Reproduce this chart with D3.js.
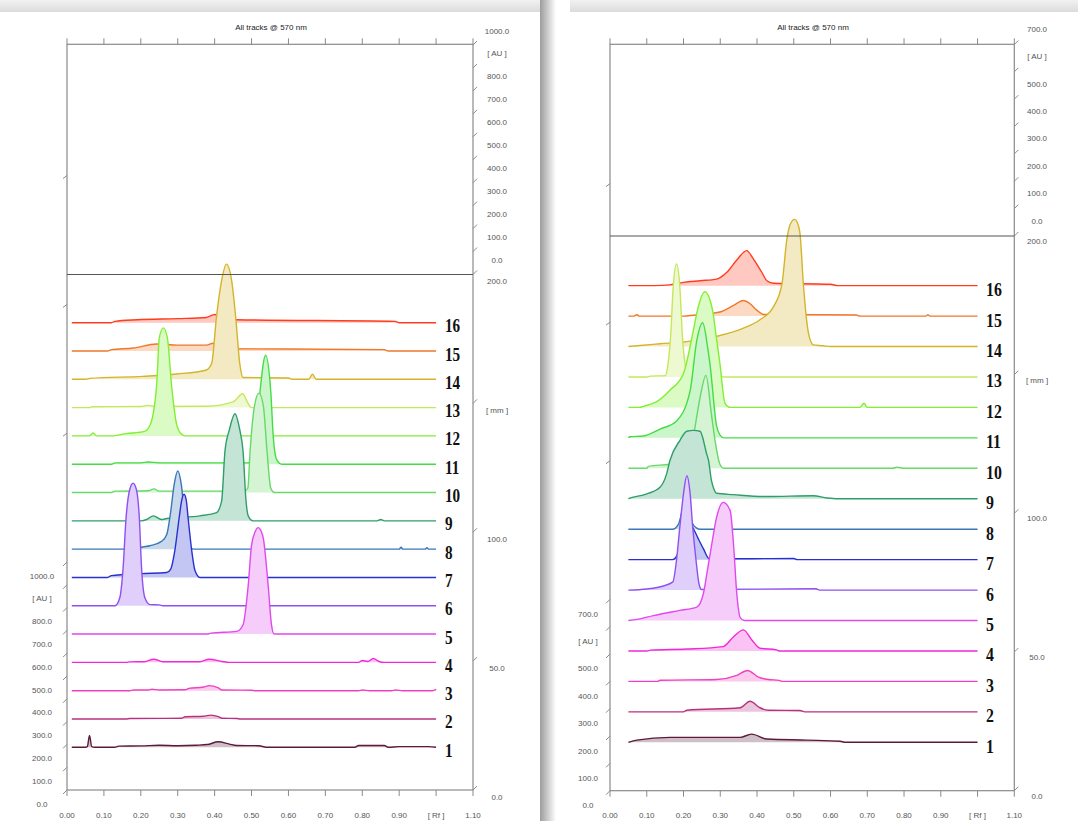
<!DOCTYPE html>
<html>
<head>
<meta charset="utf-8">
<script src="https://cdn.jsdelivr.net/npm/d3@7"></script>
<style>
  body { margin: 0; background: #fff; }
  text.axis-label { font-family: "Liberation Sans", Arial, sans-serif; }
  text.track-num { font-family: "Liberation Serif", "Times New Roman", serif; font-weight: bold; }
</style>
</head>
<body>
<svg id="chart" width="1078" height="821"></svg>
<script>
// ---- data ----
const trackIds = [1, 2, 3, 4, 5, 6, 7, 8, 9, 10, 11, 12, 13, 14, 15, 16];
const trackColors = ['#5c1a3a', '#b8307e', '#f040c0', '#f028d8', '#e048f0', '#9050f0', '#2830d0', '#3a78b8',
  '#2e9e6a', '#66d966', '#44dd44', '#80f030', '#c4e85a', '#d4b42a', '#f0782a', '#ff3c1e'];

const rfTicks = [0, 0.1, 0.2, 0.3, 0.4, 0.5, 0.6, 0.7, 0.8, 0.9, 1.0, 1.1];
const rfTickLabels = ['0.00', '0.10', '0.20', '0.30', '0.40', '0.50', '0.60', '0.70', '0.80', '0.90', '[ Rf ]', '1.10'];
const mmTicks = [0, 50, 100, 150, 200];
const mmTickLabels = ['0.0', '50.0', '100.0', '[ mm ]', '200.0'];
const chartTitle = 'All tracks @ 570 nm';

// left panel: AU axis 0..1000
const leftAuTicks = [0, 100, 200, 300, 400, 500, 600, 700, 800, 900, 1000];
const leftAuLabels = ['0.0', '100.0', '200.0', '300.0', '400.0', '500.0', '600.0', '700.0', '800.0', '[ AU ]', '1000.0'];
// right panel: AU axis 0..700
const rightAuTicks = [0, 100, 200, 300, 400, 500, 600, 700];
const rightAuLabels = ['0.0', '100.0', '200.0', '300.0', '400.0', '500.0', '[ AU ]', '700.0'];

// each trace: [Rf, AU] points, track 1 first
const leftTraces = [
  [[0.013,0],[0.05,0],[0.055,3],[0.061,52],[0.067,3],[0.075,0],[0.13,0],[0.14,5],[0.2,6],[0.25,9],[0.3,7],[0.35,9],[0.38,12],[0.41,24],[0.44,14],[0.46,8],[0.52,7],[0.54,0],[0.78,0],[0.79,8],[0.86,8],[0.87,0],[0.9,3],[0.98,3],[1.0,0]],
  [[0.013,0],[0.16,0],[0.17,2],[0.31,3],[0.32,10],[0.37,12],[0.39,17],[0.41,10],[0.42,3],[0.46,2],[0.47,0],[1.0,0]],
  [[0.013,0],[0.17,0],[0.18,3],[0.22,3],[0.23,6],[0.25,3],[0.32,4],[0.33,10],[0.37,16],[0.385,22],[0.41,12],[0.42,3],[0.5,2],[0.51,0],[0.79,0],[0.8,3],[0.82,0],[0.88,0],[0.89,3],[0.91,0],[0.99,0],[1.0,6]],
  [[0.013,0],[0.16,0],[0.17,2],[0.21,3],[0.235,14],[0.26,3],[0.36,3],[0.385,14],[0.42,4],[0.44,0],[0.79,0],[0.8,8],[0.815,4],[0.83,17],[0.845,4],[0.86,0],[1.0,0]],
  [[0.013,0],[0.38,0],[0.39,4],[0.46,12],[0.477,41],[0.491,214],[0.5,390],[0.51,450],[0.518,467],[0.525,455],[0.532,420],[0.545,214],[0.554,41],[0.561,0],[1.0,0]],
  [[0.013,0],[0.13,0],[0.143,35],[0.152,166],[0.16,385],[0.17,510],[0.179,537],[0.188,510],[0.196,385],[0.202,166],[0.211,35],[0.225,5],[0.25,4],[0.26,0],[1.0,0]],
  [[0.013,0],[0.11,0],[0.12,8],[0.2,17],[0.27,22],[0.281,37],[0.292,117],[0.304,263],[0.311,340],[0.317,365],[0.323,340],[0.328,263],[0.338,117],[0.347,29],[0.36,0],[1.0,0]],
  [[0.013,0],[0.19,0],[0.198,7],[0.225,15],[0.256,34],[0.27,63],[0.281,165],[0.29,280],[0.3,343],[0.31,280],[0.319,136],[0.328,34],[0.342,0],[0.9,0],[0.905,8],[0.91,0],[0.97,0],[0.975,6],[0.98,0],[1.0,0]],
  [[0.013,0],[0.2,0],[0.216,6],[0.234,22],[0.256,6],[0.27,10],[0.36,22],[0.405,36],[0.419,88],[0.428,306],[0.44,400],[0.455,470],[0.468,400],[0.477,306],[0.485,88],[0.491,22],[0.504,0],[0.84,0],[0.85,6],[0.86,0],[1.0,0]],
  [[0.013,0],[0.12,0],[0.13,6],[0.22,8],[0.236,16],[0.25,6],[0.46,6],[0.482,8],[0.49,20],[0.496,180],[0.508,380],[0.52,436],[0.532,380],[0.542,180],[0.552,20],[0.562,0],[1.0,0]],
  [[0.013,0],[0.12,0],[0.13,6],[0.2,6],[0.22,10],[0.25,6],[0.49,6],[0.505,20],[0.512,117],[0.523,320],[0.538,478],[0.552,320],[0.559,117],[0.568,20],[0.582,0],[1.0,0]],
  [[0.013,0],[0.06,0],[0.071,13],[0.08,0],[0.12,0],[0.16,10],[0.21,20],[0.226,51],[0.243,226],[0.25,430],[0.261,474],[0.272,430],[0.283,226],[0.297,51],[0.31,8],[0.32,0],[1.0,0]],
  [[0.013,0],[0.06,0],[0.07,4],[0.2,5],[0.22,10],[0.24,5],[0.38,6],[0.45,25],[0.476,61],[0.49,20],[0.5,0],[1.0,0]],
  [[0.013,0],[0.05,0],[0.062,4],[0.206,13],[0.297,23],[0.378,41],[0.392,70],[0.405,274],[0.419,434],[0.432,505],[0.446,434],[0.457,274],[0.468,70],[0.477,8],[0.6,6],[0.61,0],[0.655,0],[0.665,22],[0.675,0],[1.0,0]],
  [[0.013,0],[0.11,0],[0.12,6],[0.18,13],[0.243,31],[0.3,26],[0.378,26],[0.396,34],[0.405,10],[0.6,9],[0.86,6],[0.87,0],[1.0,0]],
  [[0.013,0],[0.12,0],[0.13,6],[0.19,13],[0.3,18],[0.378,23],[0.4,36],[0.43,20],[0.46,13],[0.89,6],[0.9,0],[1.0,0]]
];

const rightTraces = [
  [[0.05,0],[0.073,8],[0.163,18],[0.354,18],[0.385,30],[0.427,12],[0.535,8],[0.626,4],[0.64,0],[1.0,0]],
  [[0.05,0],[0.2,0],[0.209,6],[0.354,15],[0.381,39],[0.408,15],[0.431,6],[0.517,5],[0.53,0],[1.0,0]],
  [[0.05,0],[0.13,0],[0.136,4],[0.29,7],[0.345,22],[0.374,40],[0.404,16],[0.431,7],[0.46,4],[0.47,0],[1.0,0]],
  [[0.05,0],[0.1,0],[0.11,3],[0.209,7],[0.308,16],[0.336,52],[0.363,77],[0.386,40],[0.408,10],[0.453,4],[0.46,0],[1.0,0]],
  [[0.05,0],[0.073,4],[0.118,18],[0.19,37],[0.236,49],[0.254,98],[0.265,183],[0.277,280],[0.29,377],[0.308,432],[0.327,402],[0.336,280],[0.345,98],[0.354,12],[0.365,0],[1.0,0]],
  [[0.05,0],[0.1,4],[0.145,15],[0.171,30],[0.181,110],[0.19,231],[0.2,353],[0.209,418],[0.218,353],[0.225,231],[0.234,110],[0.242,24],[0.249,2],[0.56,5],[0.57,0],[1.0,0]],
  [[0.05,0],[0.17,0],[0.19,40],[0.2,110],[0.212,140],[0.227,113],[0.24,77],[0.254,40],[0.27,3],[0.5,4],[0.51,0],[1.0,0]],
  [[0.05,0],[0.17,0],[0.186,18],[0.195,60],[0.205,110],[0.215,60],[0.225,20],[0.235,5],[0.245,0],[1.0,0]],
  [[0.05,0],[0.054,2],[0.1,18],[0.136,42],[0.154,91],[0.163,140],[0.19,213],[0.209,247],[0.227,250],[0.245,247],[0.263,164],[0.268,140],[0.276,67],[0.281,42],[0.29,20],[0.336,15],[0.427,8],[0.553,11],[0.59,3],[0.62,0],[1.0,0]],
  [[0.05,0],[0.1,0],[0.104,7],[0.163,15],[0.2,25],[0.222,75],[0.231,148],[0.245,258],[0.261,340],[0.276,197],[0.286,100],[0.299,15],[0.31,0],[0.77,0],[0.78,4],[0.8,0],[1.0,0]],
  [[0.05,0],[0.054,4],[0.091,7],[0.136,32],[0.181,62],[0.218,172],[0.236,355],[0.252,421],[0.267,318],[0.272,270],[0.29,44],[0.299,11],[0.31,0],[1.0,0]],
  [[0.05,0],[0.08,0],[0.091,4],[0.127,21],[0.163,63],[0.2,124],[0.227,283],[0.238,356],[0.258,423],[0.279,356],[0.288,270],[0.299,161],[0.313,15],[0.327,0],[0.68,0],[0.691,15],[0.7,0],[1.0,0]],
  [[0.05,0],[0.1,0],[0.11,3],[0.15,5],[0.157,40],[0.165,150],[0.172,330],[0.181,413],[0.19,330],[0.197,150],[0.205,40],[0.213,3],[0.3,3],[0.31,0],[1.0,0]],
  [[0.05,0],[0.082,4],[0.136,10],[0.209,18],[0.29,37],[0.363,67],[0.408,98],[0.445,146],[0.468,230],[0.481,390],[0.49,445],[0.502,465],[0.512,445],[0.517,413],[0.526,230],[0.54,49],[0.553,6],[0.58,3],[0.6,0],[1.0,0]],
  [[0.05,0],[0.065,0],[0.073,5],[0.08,0],[0.2,0],[0.227,3],[0.299,15],[0.336,39],[0.363,57],[0.381,45],[0.4,21],[0.418,6],[0.67,4],[0.68,0],[0.86,0],[0.865,5],[0.87,0],[1.0,0]],
  [[0.05,0],[0.12,0],[0.163,3],[0.2,12],[0.245,18],[0.29,24],[0.318,49],[0.345,94],[0.372,128],[0.39,98],[0.413,49],[0.427,18],[0.445,9],[0.6,5],[0.62,0],[1.0,0]]
];

// ---- layout ----
const panels = [
  { x0: 67, x1: 473, top: 44.3, bottom: 790, divider: 274.5, auMax: 1000, auTop: 45,
    auTicks: leftAuTicks, auLabels: leftAuLabels, lowAuTop: 562,
    trackMm: [16.57, 181.3], traces: leftTraces,
    leftLabelX: 42, rightLabelX: 497, upLabelDy: -14, lowLabelDy: 14, mmLabelDy: 7,
    numX: 445, numDy: 9.5, numSize: 19, numScale: 0.8, titleX: 271,
    cardX: 0, cardW: 540 },
  { x0: 610, x1: 1014.3, top: 44.3, bottom: 790.7, divider: 236, auMax: 700, auTop: 44.5,
    auTicks: rightAuTicks, auLabels: rightAuLabels, lowAuTop: 599.3,
    trackMm: [17.45, 182.1], traces: rightTraces,
    leftLabelX: 588, rightLabelX: 1037, upLabelDy: -15, lowLabelDy: 15, mmLabelDy: 5.5,
    numX: 986, numDy: 10.5, numSize: 18, numScale: 0.88, titleX: 813,
    cardX: 570, cardW: 508 }
];

const svg = d3.select('#chart');
const defs = svg.append('defs');

const topShade = defs.append('linearGradient').attr('id', 'topShade')
  .attr('x1', 0).attr('y1', 0).attr('x2', 0).attr('y2', 1);
topShade.append('stop').attr('offset', '0%').attr('stop-color', '#f1f1f1');
topShade.append('stop').attr('offset', '100%').attr('stop-color', '#dcdcdc');

const sideShade = defs.append('linearGradient').attr('id', 'sideShade')
  .attr('x1', 0).attr('y1', 0).attr('x2', 1).attr('y2', 0);
sideShade.append('stop').attr('offset', '0%').attr('stop-color', '#9c9c9c');
sideShade.append('stop').attr('offset', '100%').attr('stop-color', '#ffffff');

svg.append('rect').attr('width', 1078).attr('height', 821).attr('fill', '#fff');

panels.forEach(p => {
  svg.append('rect').attr('x', p.cardX).attr('y', 0).attr('width', p.cardW).attr('height', 12)
    .attr('fill', 'url(#topShade)');
});
svg.append('rect').attr('x', 540).attr('y', 0).attr('width', 16).attr('height', 821)
  .attr('fill', 'url(#sideShade)');

const axisColor = '#8a8a8a';
const labelColor = '#555';

function drawPanel(p) {
  const g = svg.append('g');

  const x = d3.scaleLinear().domain([0, 1.1]).range([p.x0, p.x1]);
  const yMm = d3.scaleLinear().domain([0, 200]).range([p.bottom, p.divider]);
  const yUp = d3.scaleLinear().domain([0, p.auMax]).range([p.divider, p.auTop]);
  const yLow = d3.scaleLinear().domain([0, p.auMax]).range([p.bottom, p.lowAuTop]);
  const auPx = d3.scaleLinear().domain([0, p.auMax]).range([0, p.bottom - p.lowAuTop]);
  const trackMm = d3.scaleLinear().domain([1, 16]).range(p.trackMm);
  const baseY = id => yMm(trackMm(id));

  // traces, top track first so lower tracks overlap
  const area = d3.area().curve(d3.curveMonotoneX).x(d => x(d[0]));
  const line = d3.line().curve(d3.curveMonotoneX).x(d => x(d[0]));

  const order = trackIds.slice().reverse();
  order.forEach(id => {
    const pts = p.traces[id - 1];
    const b = baseY(id);
    const col = trackColors[id - 1];
    const fill = d3.interpolateRgb('#ffffff', col)(0.28);
    g.append('path').datum(pts)
      .attr('fill', fill)
      .attr('d', area.y0(b).y1(d => b - auPx(d[1])));
    g.append('path').datum(pts)
      .attr('fill', 'none')
      .attr('stroke', col)
      .attr('stroke-width', 1.4)
      .attr('d', line.y(d => b - auPx(d[1])));
    g.append('text')
      .attr('class', 'track-num')
      .attr('transform', `translate(${p.numX},${b + p.numDy}) scale(${p.numScale},1)`)
      .attr('font-size', p.numSize)
      .attr('fill', '#111')
      .text(id);
  });

  // frame
  g.append('rect').attr('x', p.x0).attr('y', p.top)
    .attr('width', p.x1 - p.x0).attr('height', p.bottom - p.top)
    .attr('fill', 'none').attr('stroke', axisColor).attr('stroke-width', 1.2);
  g.append('line').attr('x1', p.x0).attr('x2', p.x1)
    .attr('y1', p.divider).attr('y2', p.divider)
    .attr('stroke', '#555').attr('stroke-width', 1.2);

  // Rf ticks top and bottom
  g.selectAll('.tt').data(rfTicks).join('line')
    .attr('x1', d => x(d)).attr('x2', d => x(d))
    .attr('y1', p.top).attr('y2', p.top - 6)
    .attr('stroke', axisColor);
  g.selectAll('.bt').data(rfTicks).join('line')
    .attr('x1', d => x(d)).attr('x2', d => x(d))
    .attr('y1', p.bottom).attr('y2', p.bottom + 6)
    .attr('stroke', axisColor);
  g.selectAll('.bl').data(rfTicks).join('text')
    .attr('class', 'axis-label')
    .attr('x', d => x(d)).attr('y', 815)
    .attr('text-anchor', 'middle').attr('dominant-baseline', 'central')
    .attr('font-size', 8).attr('fill', labelColor)
    .text((d, i) => rfTickLabels[i]);

  // right side: upper AU scale
  g.selectAll('.ru').data(p.auTicks.slice(1)).join('line')
    .attr('x1', p.x1).attr('y1', d => yUp(d))
    .attr('x2', p.x1 + 4).attr('y2', d => yUp(d) - 4)
    .attr('stroke', axisColor);
  g.selectAll('.rul').data(p.auTicks).join('text')
    .attr('class', 'axis-label')
    .attr('x', p.rightLabelX).attr('y', d => yUp(d) + p.upLabelDy)
    .attr('text-anchor', 'middle').attr('dominant-baseline', 'central')
    .attr('font-size', 8).attr('fill', labelColor)
    .text((d, i) => p.auLabels[i]);

  // right side: mm scale
  g.selectAll('.rm').data(mmTicks).join('line')
    .attr('x1', p.x1).attr('y1', d => yMm(d))
    .attr('x2', p.x1 + 4).attr('y2', d => yMm(d) - 4)
    .attr('stroke', axisColor);
  g.selectAll('.rml').data(mmTicks).join('text')
    .attr('class', 'axis-label')
    .attr('x', p.rightLabelX).attr('y', d => yMm(d) + p.mmLabelDy)
    .attr('text-anchor', 'middle').attr('dominant-baseline', 'central')
    .attr('font-size', 8).attr('fill', labelColor)
    .text((d, i) => mmTickLabels[i]);

  // left side: lower AU scale
  g.selectAll('.lu').data(p.auTicks).join('line')
    .attr('x1', p.x0 - 4).attr('y1', d => yLow(d) + 4)
    .attr('x2', p.x0).attr('y2', d => yLow(d))
    .attr('stroke', axisColor);
  g.selectAll('.lul').data(p.auTicks).join('text')
    .attr('class', 'axis-label')
    .attr('x', p.leftLabelX).attr('y', d => yLow(d) + p.lowLabelDy)
    .attr('text-anchor', 'middle').attr('dominant-baseline', 'central')
    .attr('font-size', 8).attr('fill', labelColor)
    .text((d, i) => p.auLabels[i]);

  // left side: further ticks above the AU range
  const step = (p.bottom - p.lowAuTop) * (p.auMax === 1000 ? 0.565 : 0.724);
  const extra = [1, 2, 3].map(k => p.lowAuTop - k * step);
  g.selectAll('.le').data(extra).join('line')
    .attr('x1', p.x0 - 4).attr('y1', d => d + 3)
    .attr('x2', p.x0).attr('y2', d => d)
    .attr('stroke', axisColor);

  // title
  g.append('text')
    .attr('class', 'axis-label')
    .attr('x', p.titleX).attr('y', 27)
    .attr('text-anchor', 'middle').attr('dominant-baseline', 'central')
    .attr('font-size', 8).attr('fill', '#222')
    .text(chartTitle);
}

panels.forEach(drawPanel);
</script>
</body>
</html>
